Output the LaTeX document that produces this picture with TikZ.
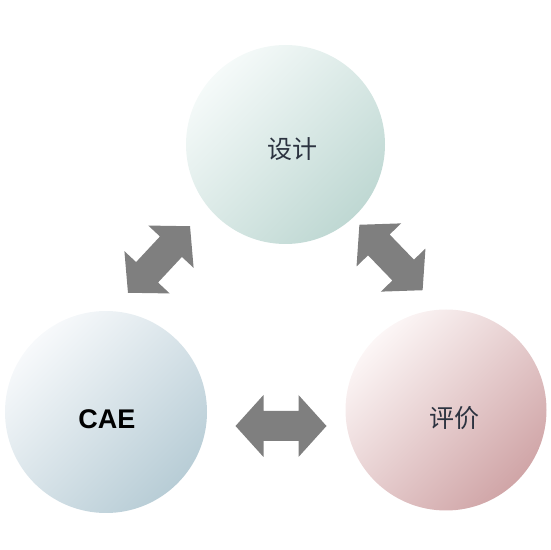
\documentclass[tikz,border=0pt]{standalone}
\usepackage{fontspec}
\usetikzlibrary{calc}
\newfontfamily\cjkfont{Noto Sans CJK SC}
\newfontfamily\latinsans{Liberation Sans}
\definecolor{designLight}{HTML}{F5FAF9}
\definecolor{designDark}{HTML}{BFD8D3}
\definecolor{caeLight}{HTML}{F7F9FB}
\definecolor{caeDark}{HTML}{B8CDD6}
\definecolor{evalLight}{HTML}{FCF6F6}
\definecolor{evalDark}{HTML}{D0A5A7}
\definecolor{arrowgray}{HTML}{7F7F7F}
\definecolor{textdark}{HTML}{2C3340}
\begin{document}
\begin{tikzpicture}[x=1pt,y=1pt,
  ball/.style n args={3}{circle, minimum size=#1, inner sep=0pt, draw=none,
    top color=#2, bottom color=#3, shading angle=45},
  cjklabel/.style={text=textdark, font=\cjkfont\fontsize{25}{30}\selectfont},
  caelabel/.style={text=black, font=\latinsans\bfseries\fontsize{27}{32}\selectfont},
  blockarrow/.pic={
    \fill[arrowgray] (-45.5,0) -- (-17.5,31) -- (-17.5,15) -- (17.5,15) -- (17.5,31)
      -- (45.5,0) -- (17.5,-31) -- (17.5,-15) -- (-17.5,-15) -- (-17.5,-31) -- cycle;
  }]
\useasboundingbox (0,0) rectangle (550,550);
% circles
\node[ball={199pt}{designLight}{designDark}] (design) at (285.5,405.5) {};
\node[ball={202pt}{caeLight}{caeDark}] (cae) at (106,138) {};
\node[ball={201pt}{evalLight}{evalDark}] (eval) at (446,140) {};
% labels
\node[cjklabel] (designtext) at ($(design)+(6.5,-5)$) {设计};
\node[caelabel] (caetext) at ($(cae)+(1,-7)$) {CAE};
\node[cjklabel] (evaltext) at ($(eval)+(8,-8)$) {评价};
% block arrows
\pic[rotate=47] (arrowleft) at (159,290.5) {blockarrow};
\pic[rotate=-46] (arrowright) at (391,292.5) {blockarrow};
\pic (arrowbottom) at (281,124) {blockarrow};
\end{tikzpicture}
\end{document}
